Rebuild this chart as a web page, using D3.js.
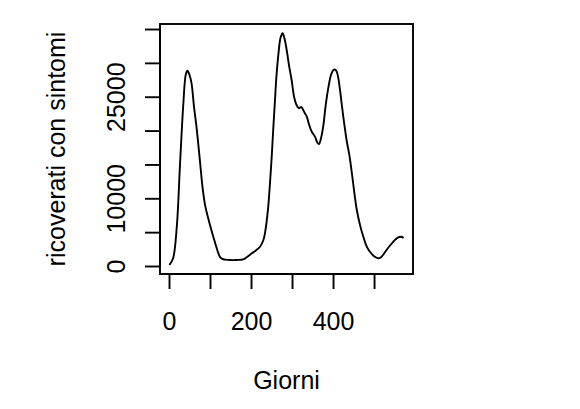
<!DOCTYPE html>
<html>
<head>
<meta charset="utf-8">
<script src="https://cdn.jsdelivr.net/npm/d3@7"></script>
<style>
  html, body { margin: 0; padding: 0; background: #fff; }
  svg { display: block; }
  text { font-family: "Liberation Sans", Arial, Helvetica, sans-serif; fill: #000; }
</style>
</head>
<body>
<svg id="chart" width="580" height="409"></svg>
<script>
// ---- data ----
const days = [1, 10, 19, 27, 35, 41, 45, 50, 55, 61, 67, 76, 82, 88, 98, 108, 116, 124, 130, 137,
  150, 165, 181, 192, 202, 212, 222, 230, 234, 238, 242, 246, 250, 254, 258, 262, 267, 272, 277,
  282, 287, 293, 299, 305, 311, 317, 322, 326, 331, 336, 342, 348, 356, 362, 366, 370, 376, 382,
  389, 395, 401, 405, 409, 413, 417, 421, 425, 433, 440, 446, 452, 458, 466, 474, 482, 490, 500,
  510, 516, 524, 531, 540, 551, 558, 565, 572];
const ricoverati = [150, 1140, 5800, 15170, 24000, 28300, 28840, 28200, 26980, 23500, 20570, 15170,
  11500, 9000, 6500, 4330, 2700, 1380, 1050, 950, 880, 890, 990, 1400, 1870, 2300, 2850, 3800,
  4830, 6500, 8760, 12000, 15650, 20000, 24030, 28000, 31410, 33700, 34370, 33500, 31900, 29500,
  27470, 25000, 23780, 23300, 23500, 23200, 22600, 22050, 20800, 19840, 19100, 18200, 18020,
  18700, 20570, 23700, 26480, 28200, 28950, 29000, 28700, 27700, 26000, 24000, 22050, 18610,
  16300, 13690, 10800, 8270, 6000, 4300, 2900, 2100, 1450, 1150, 1250, 1800, 2400, 3100, 3850,
  4200, 4330, 4150];
const xTicks = [0, 100, 200, 300, 400, 500];
const xTickLabels = ["0", "", "200", "", "400", ""];
const yTicks = [0, 5000, 10000, 15000, 20000, 25000, 30000, 35000];
const yTickLabels = ["0", "", "10000", "", "", "25000", "", ""];
const xTitle = "Giorni";
const yTitle = "ricoverati con sintomi";

// ---- layout ----
(function () {
const svg = d3.select("#chart");
const pL = 160, pR = 413, pT = 24, pB = 274;
const x = d3.scaleLinear().domain([-21.95, 595]).range([pL, pR]);
const y = d3.scaleLinear().domain([-1181, 35740]).range([pB, pT]);
const fs = 25;
const sw = 1.9;

// plot line
const data = days.map((d, i) => [d, ricoverati[i]]);
svg.append("path")
  .datum(data)
  .attr("fill", "none")
  .attr("stroke", "#000")
  .attr("stroke-width", sw)
  .attr("stroke-linejoin", "round")
  .attr("d", d3.line().x(d => x(d[0])).y(d => y(d[1])).curve(d3.curveCatmullRom.alpha(0.5)));

// box
svg.append("rect")
  .attr("x", pL).attr("y", pT)
  .attr("width", pR - pL).attr("height", pB - pT)
  .attr("fill", "none").attr("stroke", "#000").attr("stroke-width", sw);

// x axis
const gx = svg.append("g").attr("transform", `translate(0,${pB})`)
  .call(d3.axisBottom(x).tickValues(xTicks).tickSize(15).tickSizeOuter(0)
    .tickFormat((d, i) => xTickLabels[i]));
gx.select(".domain").remove();
gx.append("line")
  .attr("x1", x(xTicks[0])).attr("x2", x(xTicks[xTicks.length - 1]))
  .attr("stroke", "#000").attr("stroke-width", sw);
gx.selectAll(".tick line").attr("stroke-width", sw);
gx.selectAll(".tick text")
  .attr("font-size", fs).attr("y", 56).attr("dy", 0)
  .style("font-family", "'Liberation Sans', Arial, sans-serif");

// y axis
const gy = svg.append("g").attr("transform", `translate(${pL},0)`)
  .call(d3.axisLeft(y).tickValues(yTicks).tickSize(15).tickSizeOuter(0)
    .tickFormat((d, i) => yTickLabels[i]));
gy.select(".domain").remove();
gy.append("line")
  .attr("y1", y(yTicks[0])).attr("y2", y(yTicks[yTicks.length - 1]))
  .attr("stroke", "#000").attr("stroke-width", sw);
gy.selectAll(".tick line").attr("stroke-width", sw);
gy.selectAll(".tick text")
  .attr("font-size", fs)
  .attr("x", null).attr("dy", 0)
  .attr("text-anchor", "middle")
  .attr("transform", "translate(-35,0) rotate(-90)")
  .attr("y", 0)
  .style("font-family", "'Liberation Sans', Arial, sans-serif");

// titles
svg.append("text")
  .attr("x", (pL + pR) / 2).attr("y", 389)
  .attr("text-anchor", "middle").attr("font-size", fs)
  .text(xTitle);
svg.append("text")
  .attr("transform", `translate(65,${(pT + pB) / 2}) rotate(-90)`)
  .attr("text-anchor", "middle").attr("font-size", fs)
  .text(yTitle);
})();
</script>
</body>
</html>
